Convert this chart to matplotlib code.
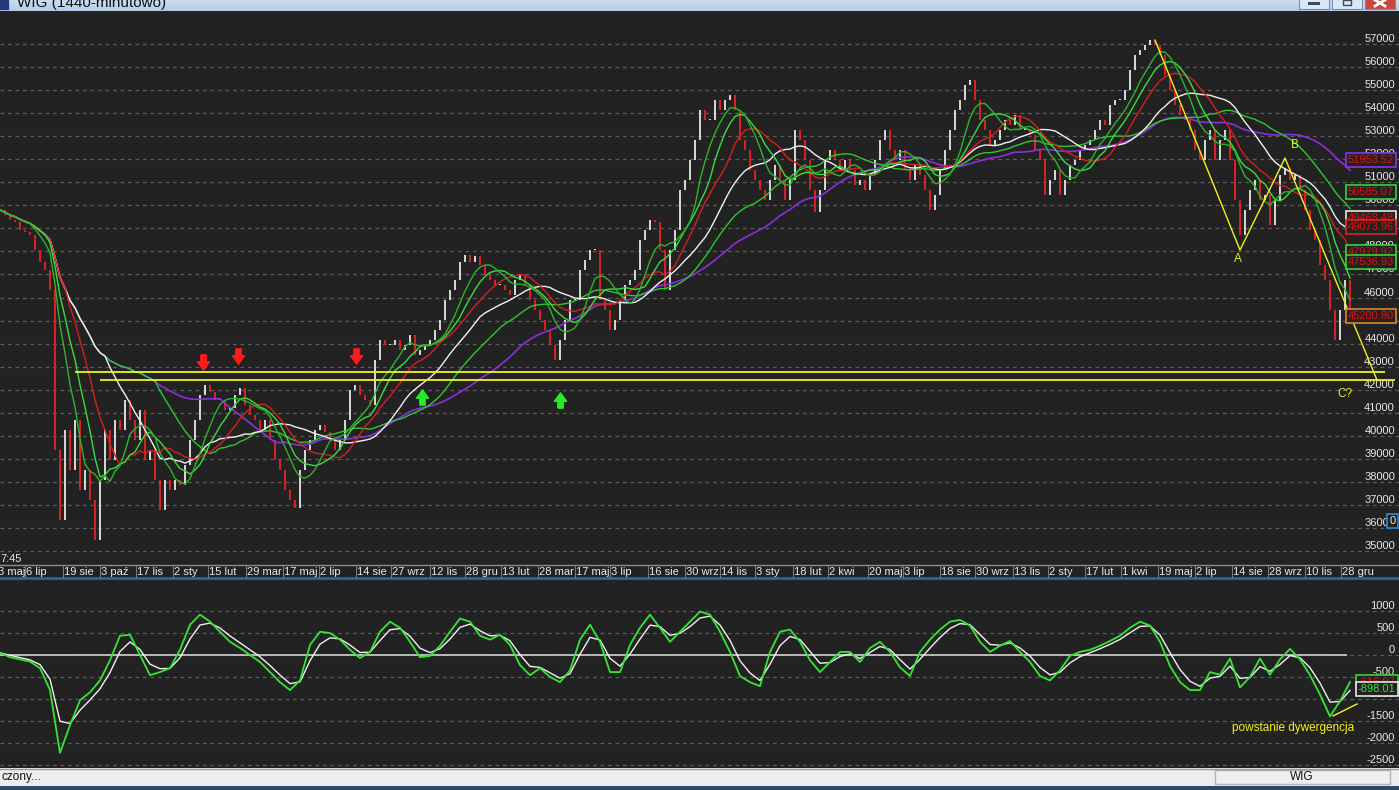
import numpy as np
import pandas as pd
import matplotlib
matplotlib.use('Agg')
import matplotlib.pyplot as plt
from matplotlib.patches import Rectangle
from matplotlib.transforms import blended_transform_factory, offset_copy

plt.rcParams['font.family'] = ['Liberation Sans', 'DejaVu Sans']

# WIG closes, one value every ~4.4 sessions
closes = [
    49800, 49580, 49360, 49280, 48930, 48850, 48710, 48060, 47540, 47190,
    46330, 39380, 36350, 40250, 38520, 40690, 37650, 38520, 37210, 35480,
    38080, 40250, 38950, 40690, 40250, 41550, 40690, 39820, 41120, 38950,
    39380, 38080, 36780, 38080, 37650, 38080, 37870, 38730, 39820, 40690,
    41770, 42200, 41900, 41550, 41550, 41120, 41200, 41770, 42070, 41340,
    40900, 40690, 40250, 40690, 39820, 38950, 38520, 37650, 37210, 36870,
    38520, 39380, 39820, 40250, 40470, 40170, 39820, 39380, 39820, 40690,
    41990, 42200, 41770, 41550, 41340, 43290, 44160, 43940, 43940, 44160,
    43720, 43940, 44370, 43510, 43720, 43940, 44160, 44590, 45020, 45890,
    46330, 46760, 47540, 47840, 47540, 47800, 47410, 46980, 46760, 46540,
    46540, 46330, 46110, 46760, 46980, 46540, 45890, 45460, 45020, 44590,
    43940, 43290, 44160, 45020, 45890, 45890, 47190, 47630, 48060, 48060,
    45890, 45460, 44590, 45020, 45890, 46540, 46760, 47190, 48500, 48930,
    49360, 49280, 48060, 46330, 48060, 48930, 50670, 51100, 51970, 52830,
    54140, 53700, 53700, 54570, 54140, 54570, 54790, 54140, 52830, 52400,
    51530, 51100, 50670, 50230, 51100, 51750, 51100, 50230, 51100, 53270,
    52830, 51970, 50670, 49710, 50670, 51970, 52400, 51970, 51530, 51970,
    51530, 50880, 51100, 50670, 51320, 51970, 52830, 53270, 52400, 51970,
    52400, 51530, 51100, 51750, 51320, 50670, 49800, 50450, 51530, 52400,
    53270, 54140, 54570, 55220, 55440, 54570, 53700, 53270, 52620, 52830,
    53270, 53700, 53490, 53920, 53270, 53270, 53050, 52400, 51970, 50450,
    51100, 51530, 50450, 51100, 51750, 51970, 52400, 52620, 52830, 53270,
    53700, 53490, 54350, 54570, 54570, 55000, 55870, 56520, 56740, 56960,
    57170, 56960, 56520, 55650, 55000, 54350, 53920, 53700, 53270, 52400,
    51970, 52830, 53270, 51970, 52830, 53270, 51970, 50230, 48710, 49800,
    50670, 51100, 50230, 50450, 49150, 50230, 51320, 51620, 51100, 51320,
    50670, 49800, 48930, 48500, 47410, 46760, 45460, 44160, 45460, 46760,
    45200,
]

# oscillator (green line), one value every two price samples
osc = [
    50, -50, -100, -150, -300, -800, -2230, -1600, -1030, -850,
    -580, -120, 440, 460, 0, -460, -390, -300, 120, 690,
    920, 760, 530, 300, 160, 0, -160, -390, -620, -800,
    -580, 230, 530, 500, 350, 120, -70, 70, 530, 760,
    620, 300, -50, -20, 210, 530, 830, 760, 440, 350,
    460, 230, -230, -460, -300, -500, -620, -350, 350, 690,
    300, -390, -390, 230, 620, 920, 620, 300, 530, 760,
    990, 920, 530, 70, -480, -620, -710, 70, 530, 580,
    300, -120, -390, -160, 70, 70, -160, 160, 300, 70,
    -280, -480, 70, 350, 580, 760, 800, 670, 300, 70,
    210, 320, 70, -160, -480, -580, -350, -20, 70, 120,
    210, 320, 440, 620, 760, 670, 300, -250, -620, -800,
    -800, -390, -450, -80, -740, -500, -80, -450, -100, 140,
    -100, -460, -900, -1400, -1050, -617,
]

date_labels = ['3 maj', '6 lip', '19 sie', '3 paź', '17 lis', '2 sty', '15 lut', '29 mar',
               '17 maj', '2 lip', '14 sie', '27 wrz', '12 lis', '28 gru', '13 lut', '28 mar',
               '17 maj', '3 lip', '16 sie', '30 wrz', '14 lis', '3 sty', '18 lut', '2 kwi',
               '20 maj', '3 lip', '18 sie', '30 wrz', '13 lis', '2 sty', '17 lut', '1 kwi',
               '19 maj', '2 lip', '14 sie', '28 wrz', '10 lis', '28 gru']
date_pos = [-0.6, 5.0, 12.6, 20.0, 27.2, 34.6, 41.6, 49.2, 56.6, 63.8, 71.2, 78.2, 86.0,
            93.0, 100.2, 107.6, 115.0, 122.0, 129.6, 137.0, 144.0, 151.0, 158.6, 165.6,
            173.6, 180.6, 188.0, 195.0, 202.6, 209.6, 217.0, 224.2, 231.6, 239.0, 246.4,
            253.6, 261.0, 268.2]

price_ticks = list(range(57000, 34999, -1000))
osc_ticks = [1000, 500, 0, -500, -1000, -1500, -2000, -2500]

# last values shown in the boxes on the right
box_vals = [51953.52, 50585.07, 49468.48, 49073.96, 47979.92, 47536.93, 45200.80]
box_edges = ['#8d32e0', '#36d436', '#e6e6e6', '#e02424', '#36d436', '#36d436', '#e0842a']
osc_box_vals = [-616.97, -898.01]

# drawn annotations
support_lvls = [42770, 42420]
support_start = [15, 20]
support_end = [277, 279]
wave_x = [231, 248, 257, 275.4]
wave_y = [57170, 48060, 52050, 42420]
sell_x = [40.6, 47.6, 71.2]
sell_y = [43200, 43460, 43460]
buy_x = [84.4, 112.0]
buy_y = [41680, 41550]

W, H = 1399, 790
BG = '#222222'
YEL = '#f2f21e'
fig = plt.figure(figsize=(W / 100, H / 100), dpi=100)


def px_axes(x0, y0, x1, y1, z):
    a = fig.add_axes([x0 / W, 1 - y1 / H, (x1 - x0) / W, (y1 - y0) / H])
    a.set_zorder(z)
    a.patch.set_alpha(0)
    a.axis('off')
    return a


bg = px_axes(0, 0, W, H, 0)
bg.set_xlim(0, W)
bg.set_ylim(H, 0)
bg.add_patch(Rectangle((0, 0), W, H, color=BG))

# ---------------- price panel ----------------
ax = px_axes(0, 11, W, 556, 2)
ppx = 507 / 22000  # pixels per point
ax.set_ylim(35000 - 5 / ppx, 57000 + 33 / ppx)
ax.set_xlim(0, W / 5)

for p in price_ticks:
    ax.axhline(p, color='#5c5c5c', lw=0.9, ls=(0, (3, 3)), zorder=1)
lab_tr = offset_copy(blended_transform_factory(ax.transAxes, ax.transData), fig=fig, y=5, units='dots')
for p in price_ticks:
    ax.text(1 - 4 / W, p, str(p), transform=lab_tr, ha='right', va='center',
            color='#e8e8e8', fontsize=8)

c = np.array(closes, dtype=float)
o = np.r_[c[0], c[:-1]]
x = np.arange(len(c))
up = c >= o
ax.bar(x[up], np.maximum(c - o, 40)[up], bottom=o[up], width=0.45, color='#d4d4d4', lw=0, zorder=3)
ax.bar(x[~up], (c - o)[~up], bottom=o[~up], width=0.45, color='#d42222', lw=0, zorder=3)

s = pd.Series(c)
ax.plot(x, s.rolling(45, min_periods=1).mean(), color='#8a2ee0', lw=1.2, zorder=4)
ax.plot(x, s.rolling(32, min_periods=1).mean(), color='#2ec82e', lw=1.0, zorder=4)
ax.plot(x, s.rolling(22, min_periods=1).mean(), color='#f0f0f0', lw=1.0, zorder=4)
ax.plot(x, s.rolling(14, min_periods=1).mean(), color='#d81e1e', lw=1.0, zorder=4)
ax.plot(x, s.rolling(10, min_periods=1).mean(), color='#3cdc3c', lw=1.0, zorder=4)
ax.plot(x, s.rolling(7, min_periods=1).mean(), color='#2cb42c', lw=1.0, zorder=4)

ax.hlines(support_lvls, support_start, support_end, color=YEL, lw=1.3, zorder=5)
ax.plot(wave_x, wave_y, color=YEL, lw=1.0, zorder=5)
ax.text(247.6, 47650, 'A', color=YEL, fontsize=8.5, ha='center', va='center', zorder=6)
ax.text(259.0, 52600, 'B', color=YEL, fontsize=8.5, ha='center', va='center', zorder=6)
ax.text(269.0, 41800, 'C?', color=YEL, fontsize=8.5, ha='center', va='center', zorder=6)

arrow = [(-0.35, 1), (0.35, 1), (0.35, 0.1), (0.8, 0.1), (0, -1), (-0.8, 0.1), (-0.35, 0.1), (-0.35, 1)]
arrow_up = [(vx, -vy) for vx, vy in arrow]
ax.plot(sell_x, sell_y, ls='none', marker=arrow, ms=11, color='#ff1a1a', zorder=6)
ax.plot(buy_x, buy_y, ls='none', marker=arrow_up, ms=11, color='#22ee22', zorder=6)

for v, ec in zip(box_vals, box_edges):
    ax.text(269.6, v, f'{v:.2f}', color='#e01010', fontsize=8, ha='left', va='center', zorder=8,
            bbox=dict(boxstyle='square,pad=0.18', facecolor=BG, edgecolor=ec, lw=1.2))
ax.text(278.5, 36300, '0', color='#e8e8e8', fontsize=8, ha='center', va='center', zorder=8,
        bbox=dict(boxstyle='square,pad=0.2', facecolor=BG, edgecolor='#2a8ad8', lw=1.2))

# ---------------- oscillator panel ----------------
ox = px_axes(0, 580, W, 768, 2)
opx = 43.86 / 1000
ox.set_ylim(-(768 - 655) / opx, (655 - 580) / opx)
ox.set_xlim(0, W / 5)
for t in osc_ticks:
    ox.axhline(t, color='#5c5c5c', lw=0.9, ls=(0, (3, 3)), zorder=1)
olab_tr = offset_copy(blended_transform_factory(ox.transAxes, ox.transData), fig=fig, y=5, units='dots')
for t in osc_ticks:
    ox.text(1 - 4 / W, t, str(t), transform=olab_tr, ha='right', va='center',
            color='#e8e8e8', fontsize=8)
ox.hlines(0, 0, 269.4, color='#cfcfcf', lw=1.2, zorder=2)

g = pd.Series(osc, dtype=float)
ox_x = np.arange(len(osc)) * 2
ox.plot(ox_x, g.ewm(span=2.5, adjust=False).mean(), color='#f0f0f0', lw=1.0, zorder=3)
ox.plot(ox_x, g, color='#33e633', lw=1.3, zorder=4)

ox.plot([266.6, 271.4], [-1390, -1117], color=YEL, lw=1.0, zorder=5)
ox.text(258.6, -1664, 'powstanie dywergencja', color=YEL, fontsize=8.5, ha='center', va='center')
ox.text(271.6, osc_box_vals[0], f'{osc_box_vals[0]:.2f}', color='#e01010', fontsize=8, ha='left',
        va='center', zorder=8, bbox=dict(boxstyle='square,pad=0.18', facecolor=BG, edgecolor='#36d436', lw=1.2))
ox.text(271.6, osc_box_vals[1] + 120, f'{osc_box_vals[1]:.2f}', color='#36e036', fontsize=8, ha='left',
        va='center', zorder=8, bbox=dict(boxstyle='square,pad=0.18', facecolor=BG, edgecolor='#e6e6e6', lw=1.2))

# ---------------- window chrome / date strip ----------------
ui = px_axes(0, 0, W, H, 5)
ui.set_xlim(0, W)
ui.set_ylim(H, 0)

grad = np.linspace(0, 1, 12)[:, None]
ui.imshow(grad, extent=(0, W, 11, 0), cmap=matplotlib.colors.LinearSegmentedColormap.from_list(
    't', ['#c9dcf1', '#b7cde7']), aspect='auto', zorder=1)
ui.add_patch(Rectangle((0, 0), 8, 9, color='#243a7a', zorder=2))
ui.text(17, 7, 'WIG (1440-minutowo)', color='#101010', fontsize=11, va='baseline', zorder=3)
for bx, fc in [(1299, '#dbe7f5'), (1332, '#dbe7f5'), (1365, '#c9473b')]:
    ui.add_patch(Rectangle((bx, -4), 30, 13, facecolor=fc, edgecolor='#6f8fb5', lw=0.8, zorder=2))
ui.add_patch(Rectangle((1308, 2), 12, 3, facecolor='#3a4a66', zorder=3))
ui.add_patch(Rectangle((1343, 0), 8, 5, facecolor='none', edgecolor='#3a4a66', lw=1, zorder=3))
ui.plot([1375, 1385], [0, 6], color='white', lw=2, zorder=3)
ui.plot([1375, 1385], [6, 0], color='white', lw=2, zorder=3)

ui.text(0, 559, '7:45', color='#e8e8e8', fontsize=8, va='center')
ui.plot([0, W], [565, 565], color='#8c8c8c', lw=1)
ui.plot([0, W], [578, 578], color='#1f6aa5', lw=2)
date_tr = blended_transform_factory(ax.transData, ui.transData)
for lbl, pos in zip(date_labels, date_pos):
    ui.plot([pos, pos], [566, 577], color='#7a7a7a', lw=0.8, transform=date_tr)
    ui.text(pos + 0.25, 572, lbl, color='#e8e8e8', fontsize=8, va='center', ha='left', transform=date_tr)

ui.add_patch(Rectangle((0, 768), W, 18, facecolor='#ededed', edgecolor='none'))
ui.plot([0, W], [768.5, 768.5], color='#9a9a9a', lw=1)
ui.add_patch(Rectangle((1215, 769.5), 175, 14, facecolor='#efefef', edgecolor='#b4b4b4', lw=1))
ui.text(1, 777, 'czony...', color='#111111', fontsize=8.5, va='center')
ui.text(1302, 776.5, 'WIG', color='#111111', fontsize=8.5, va='center', ha='center')
ui.add_patch(Rectangle((0, 786), W, 4, facecolor='#2b4a6b', edgecolor='none'))

fig.savefig('out.png', dpi=100, facecolor=BG)
